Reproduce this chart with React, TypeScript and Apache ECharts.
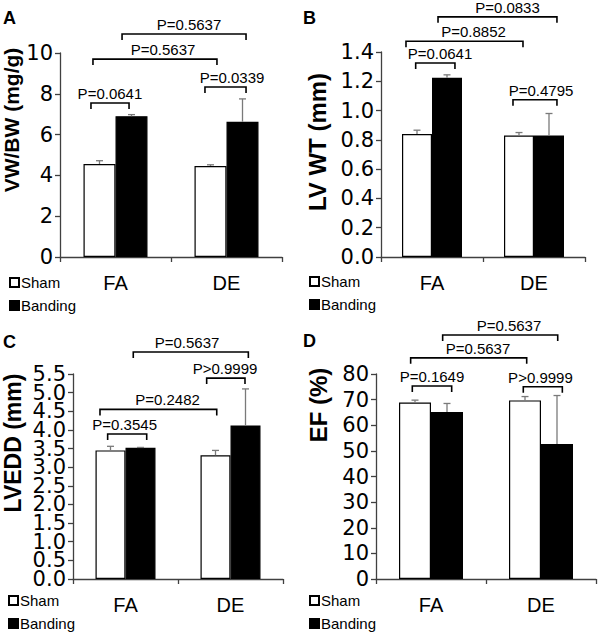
import React, { useEffect, useRef } from "react";
import * as echarts from "echarts";

const categories = ["FA", "DE"];
const groupNames = ["Sham", "Banding"];

// Panel A: VW/BW (mg/g)
const vwbwSham = [4.56, 4.46];
const vwbwShamSem = [0.16, 0.06];
const vwbwBanding = [6.9, 6.63];
const vwbwBandingSem = [0.08, 1.12];
// brackets: [x1, x2, yLevel, labelX, label]
const vwbwBrackets: [number, number, number, number, string][] = [
  [-0.221, 0.122, 7.55, -0.05, "P=0.0641"],
  [-0.203, 0.914, 9.7, 0.428, "P=0.5637"],
  [0.059, 1.176, 10.93, 0.662, "P=0.5637"],
  [0.806, 1.176, 8.33, 1.05, "P=0.0339"],
];

// Panel B: LV WT (mm)
const lvwtSham = [0.84, 0.83];
const lvwtShamSem = [0.026, 0.02];
const lvwtBanding = [1.224, 0.83];
const lvwtBandingSem = [0.02, 0.15];
const lvwtBrackets: [number, number, number, number, string][] = [
  [-0.16, 0.225, 1.325, 0.078, "P=0.0641"],
  [-0.255, 0.892, 1.473, 0.407, "P=0.8852"],
  [0.059, 1.225, 1.64, 0.74, "P=0.0833"],
  [0.794, 1.225, 1.074, 1.069, "P=0.4795"],
];

// Panel C: LVEDD (mm)
const lveddSham = [3.45, 3.32];
const lveddShamSem = [0.11, 0.13];
const lveddBanding = [3.52, 4.12];
const lveddBandingSem = [0.01, 0.98];
const lveddBrackets: [number, number, number, number, string][] = [
  [-0.17, 0.202, 3.89, -0.008, "P=0.3545"],
  [-0.243, 0.869, 4.55, 0.4, "P=0.2482"],
  [0.773, 1.138, 5.39, 0.948, "P>0.9999"],
  [0.074, 1.17, 6.09, 0.586, "P=0.5637"],
];

// Panel D: EF (%)
const efSham = [68.9, 69.7];
const efShamSem = [0.9, 1.5];
const efBanding = [65.2, 52.7];
const efBandingSem = [3.3, 18.9];
const efBrackets: [number, number, number, number, string][] = [
  [-0.17, 0.188, 75.3, 0.009, "P=0.1649"],
  [-0.185, 0.87, 86.3, 0.427, "P=0.5637"],
  [0.106, 1.152, 95.2, 0.709, "P=0.5637"],
  [0.839, 1.194, 75.0, 0.995, "P>0.9999"],
];

// axis scales
const vwbwAxis = { min: 0, max: 10, interval: 2, digits: 0 };
const lvwtAxis = { min: 0, max: 1.4, interval: 0.2, digits: 1 };
const lveddAxis = { min: 0, max: 5.5, interval: 0.5, digits: 1 };
const efAxis = { min: 0, max: 80, interval: 10, digits: 0 };

const FONT = "'Liberation Sans', Arial, Helvetica, sans-serif";
const TICK_FONT = "'DejaVu Sans', 'Liberation Sans', Arial, sans-serif";

const panels = [
  {
    letter: "A", title: "VW/BW (mg/g)", titleSize: 21,
    sham: vwbwSham, shamSem: vwbwShamSem, band: vwbwBanding, bandSem: vwbwBandingSem,
    brackets: vwbwBrackets, axis: vwbwAxis,
    grid: { left: 60, top: 53, width: 222, height: 204 }, barWidth: 32,
    letterPos: [3, 19], titlePos: [11, 120], legendPos: [9, 275],
  },
  {
    letter: "B", title: "LV WT (mm)", titleSize: 24,
    sham: lvwtSham, shamSem: lvwtShamSem, band: lvwtBanding, bandSem: lvwtBandingSem,
    brackets: lvwtBrackets, axis: lvwtAxis,
    grid: { left: 381, top: 52, width: 204, height: 205 }, barWidth: 30,
    letterPos: [303, 19], titlePos: [317, 142], legendPos: [309, 274],
  },
  {
    letter: "C", title: "LVEDD (mm)", titleSize: 23,
    sham: lveddSham, shamSem: lveddShamSem, band: lveddBanding, bandSem: lveddBandingSem,
    brackets: lveddBrackets, axis: lveddAxis,
    grid: { left: 73, top: 374, width: 210, height: 205 }, barWidth: 30,
    letterPos: [3, 343], titlePos: [13, 443], legendPos: [8, 593],
  },
  {
    letter: "D", title: "EF (%)", titleSize: 24,
    sham: efSham, shamSem: efShamSem, band: efBanding, bandSem: efBandingSem,
    brackets: efBrackets, axis: efAxis,
    grid: { left: 376, top: 374, width: 220, height: 205 }, barWidth: 32,
    letterPos: [303, 342], titlePos: [318, 405], legendPos: [309, 593],
  },
];

function buildOption() {
  const grid: any[] = [];
  const xAxis: any[] = [];
  const yAxis: any[] = [];
  const series: any[] = [];
  const legend: any[] = [];
  const graphic: any[] = [];
  const axisColor = "#404040";

  panels.forEach((p, i) => {
    grid.push({ ...p.grid, containLabel: false });
    // category axis
    xAxis.push({
      type: "category", gridIndex: i, data: categories,
      axisLine: { onZero: false, lineStyle: { color: axisColor, width: 1.3 } },
      axisTick: { show: true, length: 5, lineStyle: { color: axisColor, width: 1.3 } },
      axisLabel: { color: "#000", fontSize: 20, fontFamily: FONT, margin: 16 },
    });
    // hidden value axis for annotation brackets
    xAxis.push({
      type: "value", gridIndex: i, min: -0.5, max: 1.5, show: false,
      axisLine: { show: false, onZero: false }, splitLine: { show: false },
    });
    const { min, max, interval, digits } = p.axis;
    const isEnd = (v: number) => Math.abs(v - min) < 1e-9 || Math.abs(v - max) < 1e-9;
    const labelBase = {
      color: "#000", fontSize: 21, fontFamily: TICK_FONT, margin: 7,
      showMinLabel: true, showMaxLabel: true, hideOverlap: false,
    };
    // main y axis: inner tick labels
    yAxis.push({
      type: "value", gridIndex: i, min, max, interval,
      splitLine: { show: false },
      axisLine: { show: true, onZero: false, lineStyle: { color: axisColor, width: 1.3 } },
      axisTick: { show: true, length: 5, lineStyle: { color: axisColor, width: 1.3 } },
      axisLabel: { ...labelBase, formatter: (v: number) => (isEnd(v) ? "" : v.toFixed(digits)) },
    });
    // companion y axis: end tick labels (avoids the min/max overlap culling)
    yAxis.push({
      type: "value", gridIndex: i, min, max, interval, position: "left",
      splitLine: { show: false },
      axisLine: { show: false, onZero: false },
      axisTick: { show: false },
      axisLabel: { ...labelBase, formatter: (v: number) => (isEnd(v) ? v.toFixed(digits) : "") },
    });
    const catAxis = i * 2;
    const valAxis = i * 2 + 1;
    const yIdx = i * 2;
    series.push({
      type: "bar", name: groupNames[0], xAxisIndex: catAxis, yAxisIndex: yIdx,
      data: p.sham, barWidth: p.barWidth, barGap: "0%",
      itemStyle: { color: "#ffffff", borderColor: "#000000", borderWidth: 1.2 },
    });
    series.push({
      type: "bar", name: groupNames[1], xAxisIndex: catAxis, yAxisIndex: yIdx,
      data: p.band, barWidth: p.barWidth, barGap: "0%",
      itemStyle: { color: "#000000", borderColor: "#000000", borderWidth: 1.2 },
    });
    // error bars
    const errData: number[][] = [];
    p.sham.forEach((m, k) => errData.push([k, m, p.shamSem[k], -1]));
    p.band.forEach((m, k) => errData.push([k, m, p.bandSem[k], 1]));
    const bw = p.barWidth;
    series.push({
      type: "custom", xAxisIndex: catAxis, yAxisIndex: yIdx, z: 5,
      data: errData,
      encode: { x: 0, y: 1 },
      renderItem: (params: any, api: any) => {
        const c = api.coord([api.value(0), api.value(1)]);
        const t = api.coord([api.value(0), api.value(1) + api.value(2)]);
        const x = c[0] + api.value(3) * bw / 2;
        const st = { stroke: "#7a7a7a", lineWidth: 1.3 };
        return {
          type: "group",
          children: [
            { type: "line", shape: { x1: x, y1: c[1], x2: x, y2: t[1] }, style: st },
            { type: "line", shape: { x1: x - 3.5, y1: t[1], x2: x + 3.5, y2: t[1] }, style: st },
          ],
        };
      },
    });
    // brackets
    const br = p.brackets;
    series.push({
      type: "custom", xAxisIndex: valAxis, yAxisIndex: yIdx, z: 6,
      data: br.map((b) => [b[0], b[1], b[2], b[3]]),
      encode: { x: [0, 1], y: 2 },
      renderItem: (params: any, api: any) => {
        const label = br[params.dataIndex][4];
        const p1 = api.coord([api.value(0), api.value(2)]);
        const p2 = api.coord([api.value(1), api.value(2)]);
        const pt = api.coord([api.value(3), api.value(2)]);
        return {
          type: "group",
          children: [
            {
              type: "polyline",
              shape: { points: [[p1[0], p1[1] + 6], [p1[0], p1[1]], [p2[0], p2[1]], [p2[0], p2[1] + 6]] },
              style: { stroke: "#000", lineWidth: 1.6, fill: null },
            },
            {
              type: "text", x: pt[0], y: p1[1] - 9.5,
              style: {
                text: label, fill: "#000", font: `15px ${FONT}`,
                textAlign: "center", textVerticalAlign: "middle", align: "center", verticalAlign: "middle",
              },
            },
          ],
        };
      },
    });
    legend.push({
      orient: "vertical", left: p.legendPos[0], top: p.legendPos[1], padding: 0,
      itemWidth: 9, itemHeight: 9, itemGap: 8, icon: "rect", selectedMode: false,
      data: groupNames,
      textStyle: { color: "#000", fontSize: 15, fontFamily: FONT, padding: [0, 0, 0, -3] },
    });
    graphic.push({
      type: "text", left: p.letterPos[0], top: p.letterPos[1] - 10,
      style: { text: p.letter, font: `bold 18px ${FONT}`, fill: "#000" },
    });
    graphic.push({
      type: "text", x: p.titlePos[0], y: p.titlePos[1], rotation: Math.PI / 2,
      style: {
        text: p.title, font: `bold ${p.titleSize}px ${FONT}`, fill: "#000",
        textAlign: "center", textVerticalAlign: "middle", align: "center", verticalAlign: "middle",
      },
    });
  });

  return { animation: false, backgroundColor: "#fff", grid, xAxis, yAxis, series, legend, graphic };
}

export default function App() {
  const ref = useRef<HTMLDivElement>(null);
  useEffect(() => {
    if (!ref.current) return;
    const chart = echarts.init(ref.current, undefined, { renderer: "svg" });
    chart.setOption(buildOption() as any);
    return () => chart.dispose();
  }, []);
  return (
    <div
      ref={ref}
      style={{ position: "absolute", left: 0, top: 0, width: 600, height: 634, background: "#fff" }}
    />
  );
}
